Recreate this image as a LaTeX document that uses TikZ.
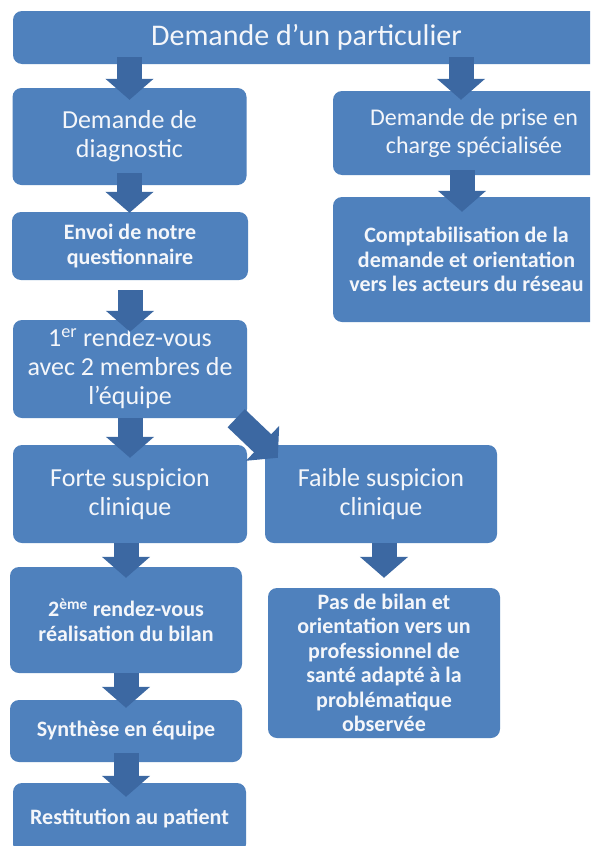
\documentclass[tikz,border=0pt]{standalone}
\usepackage{fontspec}
\setmainfont{Carlito}
\usetikzlibrary{arrows.meta}
\definecolor{etapefill}{HTML}{4F81BD}
\definecolor{etapearrow}{HTML}{3C68A2}
\definecolor{etapetext}{HTML}{F4F6FA}

\begin{document}
\begin{tikzpicture}[x=1pt,y=-1pt,
  etape/.style={fill=etapefill,text=etapetext,rounded corners=9pt,inner sep=2pt,align=center,font=\fontsize{26}{29}\selectfont},
  petite/.style={etape,font=\fontsize{22}{24.5}\selectfont\bfseries},
  fleche/.style={-{Triangle[width=47pt,length=21pt]},line width=25pt,draw=etapearrow,fill=etapearrow}
]
\useasboundingbox (0,0) rectangle (590,846);
\fill[white] (0,0) rectangle (590,846);
\clip (0,0) rectangle (590,846);

\node[etape,minimum width=587pt,minimum height=53pt,font=\fontsize{30}{34}\selectfont] (dem) at (306.5,37.5) {Demande d’un particulier};
\node[etape,minimum width=234pt,minimum height=97pt] (diag) at (129.5,136.5) {Demande de\\diagnostic};
\node[etape,minimum width=282pt,minimum height=84pt,font=\fontsize{24}{28}\selectfont] (prise) at (474,133) {Demande de prise en\\charge spécialisée};
\node[petite,minimum width=236pt,minimum height=68pt] (envoi) at (130,246) {Envoi de notre\\questionnaire};
\node[petite,minimum width=267pt,minimum height=125pt] (compta) at (466.5,259.5) {Comptabilisation de la\\demande et orientation\\vers les acteurs du réseau};
\node[etape,minimum width=234pt,minimum height=98pt] (rdv1) at (130,369) {1\textsuperscript{er} rendez-vous\\avec 2 membres de\\l’équipe};
\node[etape,minimum width=234pt,minimum height=98pt] (forte) at (130,494) {Forte suspicion\\clinique};
\node[etape,minimum width=232pt,minimum height=98pt] (faible) at (381,494) {Faible suspicion\\clinique};
\node[petite,minimum width=232pt,minimum height=106pt] (rdv2) at (126,620) {2\textsuperscript{ème} rendez-vous\\réalisation du bilan};
\node[petite,minimum width=232pt,minimum height=150pt] (pasbilan) at (384,663) {Pas de bilan et\\orientation vers un\\professionnel de\\santé adapté à la\\problématique\\observée};
\node[petite,minimum width=232pt,minimum height=62pt] (synth) at (126,731) {Synthèse en équipe};
\node[petite,minimum width=233pt,minimum height=70pt] (restit) at (129.5,818) {Restitution au patient};

\coordinate (fp) at ([xshift=-13pt]prise.north);
\coordinate (fc) at ([xshift=-4.5pt]compta.north);
\coordinate (dd) at ([xshift=-11pt]rdv1.south east);
\coordinate (df) at ([xshift=13pt,yshift=-13pt]faible.north west);

\draw[fleche,shorten <=-7pt,shorten >=-12pt] (dem.south -| diag.north) -- (diag.north);
\draw[fleche,shorten <=-7pt,shorten >=-9pt] (fp |- dem.south) -- (fp);
\draw[fleche,shorten <=-12pt,shorten >=-1pt] (diag.south) -- (diag.south |- envoi.north);
\draw[fleche,shorten <=-5pt,shorten >=-15pt] (fc |- prise.south) -- (fc);
\draw[fleche,shorten <=10pt,shorten >=-12pt] (envoi.south) -- (rdv1.north);
\draw[fleche,shorten >=-13pt] (rdv1.south) -- (forte.north);
\draw[fleche] (dd) -- (df);
\draw[fleche,shorten >=-11pt] (rdv2.north |- forte.south) -- (rdv2.north);
\draw[fleche,shorten >=10pt] (pasbilan.north |- faible.south) -- (pasbilan.north);
\draw[fleche,shorten >=-8pt] (rdv2.south) -- (synth.north);
\draw[fleche,shorten <=-9pt,shorten >=-14pt] (synth.south) -- (synth.south |- restit.north);
\end{tikzpicture}
\end{document}
